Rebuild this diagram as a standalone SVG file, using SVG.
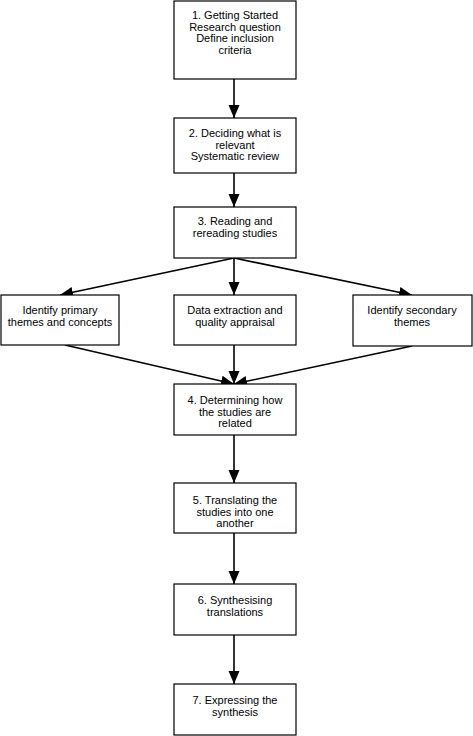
<svg xmlns="http://www.w3.org/2000/svg" width="473" height="736" viewBox="0 0 473 736">
<style>
.box{fill:#fff;stroke:#000;stroke-width:1.2}
.t{font-family:"Liberation Sans",Arial,sans-serif;font-size:11px;fill:#000;text-anchor:middle}
.c{stroke:#000;stroke-width:1.6;fill:none;marker-end:url(#ah)}
</style>
<defs>
<marker id="ah" markerUnits="userSpaceOnUse" markerWidth="14" markerHeight="14" viewBox="0 0 14 14" refX="13" refY="7" orient="auto">
<path d="M0,1.5 L13,7 L0,12.5 Z" fill="#000"/>
</marker>
</defs>
<rect width="473" height="736" fill="#fff"/>
<g id="connectors">
<line class="c" x1="234" y1="79" x2="234" y2="118"/>
<line class="c" x1="234" y1="173" x2="234" y2="207"/>
<line class="c" x1="234" y1="258" x2="60" y2="295"/>
<line class="c" x1="234" y1="258" x2="234" y2="295"/>
<line class="c" x1="234" y1="258" x2="412" y2="295"/>
<line class="c" x1="65" y1="345" x2="234" y2="384"/>
<line class="c" x1="234" y1="345" x2="234" y2="384"/>
<line class="c" x1="412" y1="346" x2="234" y2="384"/>
<line class="c" x1="234" y1="435" x2="234" y2="483"/>
<line class="c" x1="234" y1="533" x2="234" y2="584"/>
<line class="c" x1="234" y1="635" x2="234" y2="684"/>
</g>
<g id="n1">
<rect class="box" x="174" y="1" width="122" height="78"/>
<text class="t" x="235" y="19">1. Getting Started</text>
<text class="t" x="235" y="30.5">Research question</text>
<text class="t" x="235" y="42">Define inclusion</text>
<text class="t" x="235" y="53.5">criteria</text>
</g>
<g id="n2">
<rect class="box" x="174" y="118" width="122" height="55"/>
<text class="t" x="235" y="137">2. Deciding what is</text>
<text class="t" x="235" y="148.5">relevant</text>
<text class="t" x="235" y="160">Systematic review</text>
</g>
<g id="n3">
<rect class="box" x="174" y="207" width="122" height="51"/>
<text class="t" x="235" y="225">3. Reading and</text>
<text class="t" x="235" y="236.5">rereading studies</text>
</g>
<g id="nL">
<rect class="box" x="1" y="295" width="118" height="50"/>
<text class="t" x="60" y="314">Identify primary</text>
<text class="t" x="60" y="325.5">themes and concepts</text>
</g>
<g id="nM">
<rect class="box" x="174" y="295" width="122" height="50"/>
<text class="t" x="235" y="314">Data extraction and</text>
<text class="t" x="235" y="325.5">quality appraisal</text>
</g>
<g id="nR">
<rect class="box" x="353" y="295" width="119" height="51"/>
<text class="t" x="412" y="314">Identify secondary</text>
<text class="t" x="412" y="325.5">themes</text>
</g>
<g id="n4">
<rect class="box" x="174" y="384" width="122" height="51"/>
<text class="t" x="235" y="404">4. Determining how</text>
<text class="t" x="235" y="415.5">the studies are</text>
<text class="t" x="235" y="427">related</text>
</g>
<g id="n5">
<rect class="box" x="174" y="483" width="122" height="50"/>
<text class="t" x="235" y="504">5. Translating the</text>
<text class="t" x="235" y="515.5">studies into one</text>
<text class="t" x="235" y="527">another</text>
</g>
<g id="n6">
<rect class="box" x="174" y="584" width="122" height="51"/>
<text class="t" x="235" y="604">6. Synthesising</text>
<text class="t" x="235" y="615.5">translations</text>
</g>
<g id="n7">
<rect class="box" x="174" y="684" width="122" height="51"/>
<text class="t" x="235" y="704">7. Expressing the</text>
<text class="t" x="235" y="715.5">synthesis</text>
</g>
</svg>
